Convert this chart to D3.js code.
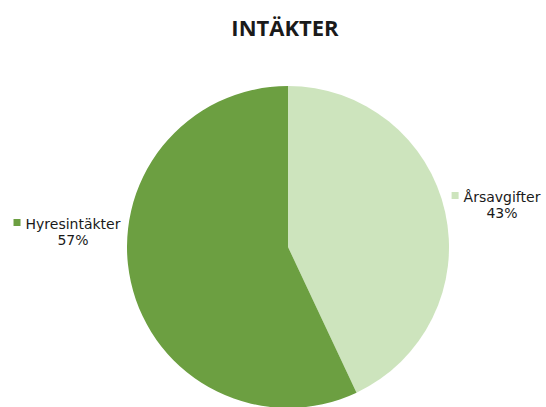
<!DOCTYPE html>
<html>
<head>
<meta charset="utf-8">
<script src="https://cdn.jsdelivr.net/npm/d3@7"></script>
<style>
  body { margin: 0; background: #fff; }
  text { font-family: "DejaVu Sans", sans-serif; fill: #1a1a1a; }
</style>
</head>
<body>
<svg></svg>
<script>
// data
const categories = ['Årsavgifter', 'Hyresintäkter']
const shares = [43, 57]
const colors = ['#cde4bd', '#6c9f41']

const width = 546
const height = 407

// pie placement
const cx = 288
const cy = 247
const radius = 161

// label blocks, one per slice (marker + name + percent)
const labelPos = [
    { x: 502, y: 202 },
    { x: 73, y: 229 }
]

const svg = d3.select('svg')
    .attr('width', width)
    .attr('height', height)

svg.append('text')
    .attr('x', 285)
    .attr('y', 36)
    .attr('text-anchor', 'middle')
    .style('font-family', '"Open Sans", sans-serif')
    .style('font-weight', 'bold')
    .style('font-size', '22px')
    .text('INTÄKTER')

const pie = d3.pie()
    .sort(null)
    .value(d => d.value)

const arc = d3.arc()
    .innerRadius(0)
    .outerRadius(radius)

const data = categories.map((c, i) => ({ name: c, value: shares[i], color: colors[i] }))

const g = svg.append('g')
    .attr('transform', `translate(${cx}, ${cy})`)

g.selectAll('path')
    .data(pie(data))
    .enter()
    .append('path')
        .attr('d', arc)
        .attr('fill', d => d.data.color)

const labels = svg.selectAll('.slice-label')
    .data(data)
    .enter()
    .append('g')
        .attr('class', 'slice-label')
        .attr('transform', (d, i) => `translate(${labelPos[i].x}, ${labelPos[i].y})`)

labels.append('text')
    .attr('text-anchor', 'middle')
    .style('font-size', '14px')
    .text(d => d.name)

labels.append('text')
    .attr('text-anchor', 'middle')
    .attr('y', 16)
    .style('font-size', '14px')
    .text(d => d.value + '%')

// little colour squares in front of the names
labels.each(function (d) {
    const sel = d3.select(this)
    const w = sel.select('text').node().getComputedTextLength()
    sel.append('rect')
        .attr('x', -w / 2 - 12)
        .attr('y', -10)
        .attr('width', 7)
        .attr('height', 7)
        .attr('fill', d.color)
})
</script>
</body>
</html>
